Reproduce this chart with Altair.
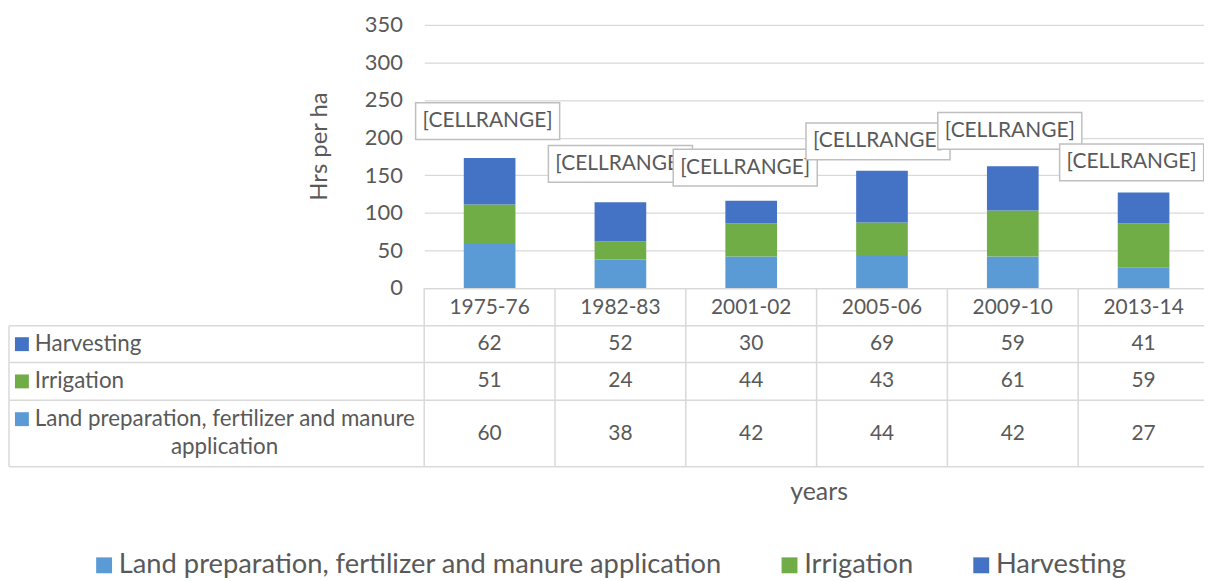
import altair as alt
import pandas as pd

years = ["1975-76", "1982-83", "2001-02", "2005-06", "2009-10", "2013-14"]
series = ["Land preparation, fertilizer and manure application", "Irrigation", "Harvesting"]
land = [60, 38, 42, 44, 42, 27]
irrigation = [51, 24, 44, 43, 61, 59]
harvesting = [62, 52, 30, 69, 59, 41]
label_y = [222, 165, 160, 195, 209, 167]
label_text = ["[CELLRANGE]"] * 6
y_ticks = [0, 50, 100, 150, 200, 250, 300, 350]
colors = ["#5B9BD5", "#70AD47", "#4472C4"]

# layout-only: horizontal nudges (px) of the label boxes
label_dx = [-2, 0, -6, -4, -3, -12]

FONT = "Lato"
TXT = "#595959"
GRID = "#D9D9D9"

rows = []
for si, (s, vals) in enumerate(zip(series, [land, irrigation, harvesting])):
    for y, v in zip(years, vals):
        rows.append({"year": y, "series": s, "value": v, "sidx": si})
df = pd.DataFrame(rows)
lab = pd.DataFrame({"year": years, "value": label_y, "text": label_text})

x_axis = alt.Axis(title="years", labelAngle=0, ticks=False, grid=False,
                  domainColor=GRID, domainWidth=1.3, labelBaseline="middle",
                  labelPadding=20, labelFontSize=21, titleFontSize=25,
                  titleX=397, titleY=205, titleBaseline="middle")
x_scale = alt.Scale(domain=years, range=[0, 790], paddingInner=0, paddingOuter=0)
X = alt.X("year:N", sort=years, scale=x_scale, axis=x_axis)

y_axis = alt.Axis(values=y_ticks, title="Hrs per ha", ticks=False, domain=False,
                  gridColor=GRID, gridWidth=1.3, labelPadding=22, labelFontSize=22,
                  titleFontSize=24, titleAngle=270, titleX=-105, titleY=122,
                  titleBaseline="middle", titleAlign="center")
y_scale = alt.Scale(domain=[0, 350], nice=False)

color = alt.Color("series:N", scale=alt.Scale(domain=series, range=colors),
                  legend=alt.Legend(orient="none", legendX=-336, legendY=530, direction="horizontal",
                                    columns=3, title=None, symbolType="square", symbolSize=256,
                                    symbolStrokeWidth=0, labelFontSize=27.5, labelOffset=1,
                                    columnPadding=54, labelLimit=1000, padding=0))

bars = alt.Chart(df).mark_bar(width=52).encode(
    x=X,
    y=alt.Y("value:Q", stack="zero", scale=y_scale, axis=y_axis),
    color=color,
    order=alt.Order("sidx:Q", sort="ascending"),
)

label_layers = []
for i, y in enumerate(years):
    d = lab[lab["year"] == y]
    s = label_dx[i] / 72.5
    box_path = f"M{-1 + s:.4f},-0.255L{1 + s:.4f},-0.255L{1 + s:.4f},0.255L{-1 + s:.4f},0.255Z"
    label_layers.append(alt.Chart(d).mark_point(shape=box_path, size=145 * 145, fill="white",
                                                stroke="#BFBFBF", strokeWidth=1.5, opacity=1,
                                                filled=False).encode(
        x=X, y=alt.Y("value:Q", scale=y_scale, axis=y_axis)))
    label_layers.append(alt.Chart(d).mark_text(fontSize=21, color=TXT, font=FONT, dx=label_dx[i]).encode(
        x=X, y=alt.Y("value:Q", scale=y_scale, axis=y_axis), text="text:N"))

# data table
row_y = {"Harvesting": 321.5, "Irrigation": 359, series[0]: 412}
table_vals = []
for s in series:
    table_vals.append(alt.Chart(df[df["series"] == s]).mark_text(fontSize=21, color=TXT, font=FONT).encode(
        x=X, y=alt.value(row_y[s]), text="value:Q"))

name_rows = pd.DataFrame({"series": ["Harvesting", "Irrigation", series[0]],
                          "line": ["Harvesting", "Irrigation", "Land preparation, fertilizer and manure"]})
name_layers = []
sq_y = [321.5, 359, 397]
for (idx, r), yy in zip(name_rows.iterrows(), sq_y):
    d = name_rows[name_rows["series"] == r["series"]]
    name_layers.append(alt.Chart(d).mark_square(size=196, opacity=1).encode(
        x=alt.value(-405), y=alt.value(yy), color=alt.Color("series:N", legend=None)))
    name_layers.append(alt.Chart(d).mark_text(fontSize=22.5, color=TXT, font=FONT, align="left").encode(
        x=alt.value(-392), y=alt.value(yy), text="line:N"))
name_layers.append(alt.Chart(pd.DataFrame({"t": ["application"]})).mark_text(
    fontSize=22.5, color=TXT, font=FONT, align="center").encode(
    x=alt.value(-201), y=alt.value(425), text="t:N"))

lines = []
for yy in [303, 340, 378, 445]:
    lines.append(alt.Chart(pd.DataFrame({"a": [0]})).mark_rule(color=GRID, strokeWidth=1.5).encode(
        x=alt.value(-418), x2=alt.value(790), y=alt.value(yy)))
lines.append(alt.Chart(pd.DataFrame({"a": [0]})).mark_rule(color=GRID, strokeWidth=1.5).encode(
    x=alt.value(-418), y=alt.value(303), y2=alt.value(445)))
lines.append(alt.Chart(pd.DataFrame({"year": years})).mark_rule(color=GRID, strokeWidth=1.5).encode(
    x=alt.X("year:N", sort=years, bandPosition=0, scale=x_scale, axis=x_axis),
    y=alt.value(265), y2=alt.value(445)))

chart = alt.layer(bars, *lines, *table_vals, *name_layers, *label_layers).properties(
    width=785, height=265,
    autosize=alt.AutoSizeParams(type="none"),
    padding={"left": 419, "top": 15, "right": 0, "bottom": 293},
).configure(font=FONT).configure_view(stroke=None).configure_axis(
    labelColor=TXT, titleColor=TXT, labelFont=FONT, titleFont=FONT, titleFontWeight="normal"
).configure_legend(labelColor=TXT, labelFont=FONT)

chart.save("out.html", embed_options={"renderer": "svg", "actions": False})
